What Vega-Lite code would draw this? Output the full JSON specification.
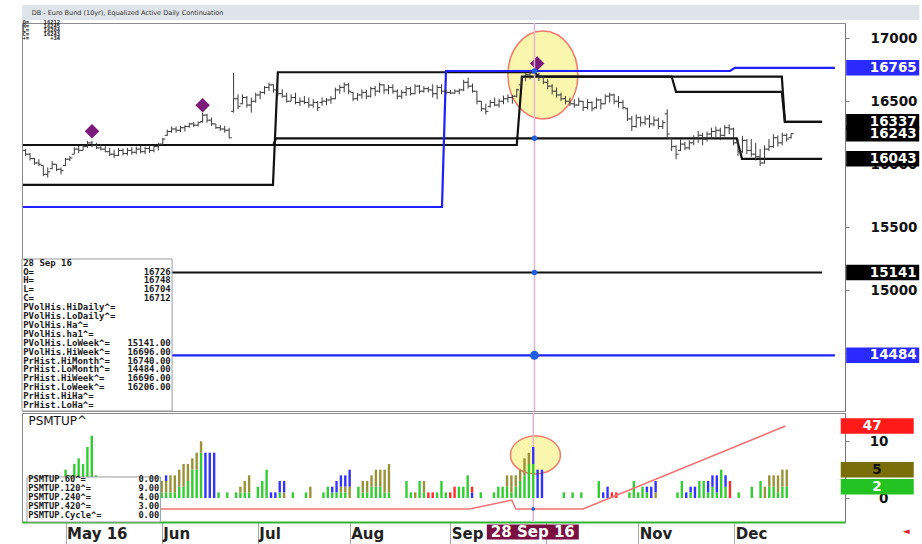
{
"$schema":"https://vega.github.io/schema/vega-lite/v6.json",
"background":"white",
"padding":{"left":18,"top":4,"right":0,"bottom":0},
"spacing":-5,
"resolve":{"scale":{"color":"independent","fill":"independent"}},
"config":{"view":{"stroke":"#8c8c8c","strokeWidth":1},"axis":{"grid":false}},
"datasets":{
"ohlc":[
{"i":1,"o":16110,"h":16120,"l":16065,"c":16080},{"i":2,"o":16080,"h":16090,"l":16030,"c":16045},{"i":3,"o":16045,"h":16050,"l":15995,"c":16010},{"i":4,"o":16010,"h":16040,"l":15985,"c":16000},{"i":5,"o":15990,"h":15990,"l":15905,"c":15920},{"i":6,"o":15920,"h":15975,"l":15895,"c":15940},{"i":7,"o":15965,"h":16025,"l":15960,"c":16000},{"i":8,"o":16000,"h":16000,"l":15945,"c":15960},{"i":9,"o":15960,"h":15975,"l":15920,"c":15950},{"i":10,"o":15990,"h":16050,"l":15985,"c":16040},
{"i":11,"o":16040,"h":16065,"l":16025,"c":16050},{"i":12,"o":16080,"h":16135,"l":16080,"c":16120},{"i":13,"o":16120,"h":16145,"l":16090,"c":16110},{"i":14,"o":16110,"h":16155,"l":16110,"c":16140},{"i":15,"o":16140,"h":16185,"l":16130,"c":16170},{"i":16,"o":16170,"h":16185,"l":16135,"c":16150},{"i":17,"o":16150,"h":16170,"l":16120,"c":16130},{"i":18,"o":16130,"h":16160,"l":16110,"c":16120},{"i":19,"o":16120,"h":16145,"l":16095,"c":16100},{"i":20,"o":16100,"h":16130,"l":16065,"c":16080},
{"i":21,"o":16080,"h":16115,"l":16050,"c":16070},{"i":22,"o":16070,"h":16130,"l":16065,"c":16110},{"i":23,"o":16110,"h":16125,"l":16070,"c":16085},{"i":24,"o":16085,"h":16130,"l":16070,"c":16110},{"i":25,"o":16110,"h":16135,"l":16075,"c":16095},{"i":26,"o":16095,"h":16140,"l":16080,"c":16120},{"i":27,"o":16120,"h":16145,"l":16085,"c":16100},{"i":28,"o":16100,"h":16140,"l":16080,"c":16125},{"i":29,"o":16125,"h":16145,"l":16090,"c":16110},{"i":30,"o":16110,"h":16150,"l":16095,"c":16140},
{"i":31,"o":16140,"h":16170,"l":16110,"c":16160},{"i":32,"o":16160,"h":16210,"l":16155,"c":16200},{"i":33,"o":16230,"h":16275,"l":16225,"c":16260},{"i":34,"o":16260,"h":16300,"l":16250,"c":16280},{"i":35,"o":16280,"h":16300,"l":16250,"c":16270},{"i":36,"o":16270,"h":16305,"l":16255,"c":16290},{"i":37,"o":16290,"h":16310,"l":16260,"c":16300},{"i":38,"o":16300,"h":16330,"l":16290,"c":16320},{"i":39,"o":16320,"h":16335,"l":16295,"c":16310},{"i":40,"o":16310,"h":16340,"l":16300,"c":16330},
{"i":41,"o":16340,"h":16410,"l":16330,"c":16390},{"i":42,"o":16390,"h":16400,"l":16330,"c":16350},{"i":43,"o":16350,"h":16370,"l":16305,"c":16320},{"i":44,"o":16320,"h":16320,"l":16280,"c":16290},{"i":45,"o":16290,"h":16310,"l":16265,"c":16280},{"i":46,"o":16280,"h":16305,"l":16250,"c":16270},{"i":47,"o":16270,"h":16290,"l":16205,"c":16210},{"i":48,"o":16420,"h":16725,"l":16410,"c":16520},{"i":49,"o":16520,"h":16555,"l":16436,"c":16460},{"i":50,"o":16480,"h":16555,"l":16476,"c":16530},
{"i":51,"o":16530,"h":16542,"l":16449,"c":16470},{"i":52,"o":16470,"h":16529,"l":16410,"c":16500},{"i":53,"o":16500,"h":16568,"l":16489,"c":16550},{"i":54,"o":16550,"h":16582,"l":16516,"c":16570},{"i":55,"o":16570,"h":16621,"l":16555,"c":16610},{"i":56,"o":16610,"h":16648,"l":16582,"c":16630},{"i":57,"o":16630,"h":16635,"l":16568,"c":16590},{"i":58,"o":16590,"h":16608,"l":16542,"c":16560},{"i":59,"o":16560,"h":16595,"l":16529,"c":16540},{"i":60,"o":16540,"h":16568,"l":16489,"c":16500},
{"i":61,"o":16500,"h":16555,"l":16502,"c":16530},{"i":62,"o":16530,"h":16568,"l":16476,"c":16490},{"i":63,"o":16490,"h":16529,"l":16463,"c":16500},{"i":64,"o":16500,"h":16542,"l":16476,"c":16490},{"i":65,"o":16490,"h":16529,"l":16449,"c":16470},{"i":66,"o":16470,"h":16516,"l":16449,"c":16490},{"i":67,"o":16490,"h":16502,"l":16423,"c":16450},{"i":68,"o":16490,"h":16530,"l":16465,"c":16500},{"i":69,"o":16500,"h":16525,"l":16470,"c":16510},{"i":70,"o":16510,"h":16540,"l":16480,"c":16520},
{"i":71,"o":16520,"h":16608,"l":16516,"c":16590},{"i":72,"o":16590,"h":16630,"l":16560,"c":16610},{"i":73,"o":16610,"h":16648,"l":16570,"c":16630},{"i":74,"o":16630,"h":16645,"l":16555,"c":16580},{"i":75,"o":16570,"h":16575,"l":16502,"c":16520},{"i":76,"o":16520,"h":16565,"l":16505,"c":16550},{"i":77,"o":16550,"h":16595,"l":16520,"c":16570},{"i":78,"o":16570,"h":16590,"l":16516,"c":16540},{"i":79,"o":16540,"h":16615,"l":16530,"c":16600},{"i":80,"o":16600,"h":16621,"l":16540,"c":16580},
{"i":81,"o":16580,"h":16648,"l":16568,"c":16630},{"i":82,"o":16630,"h":16635,"l":16560,"c":16590},{"i":83,"o":16590,"h":16630,"l":16555,"c":16610},{"i":84,"o":16610,"h":16635,"l":16560,"c":16580},{"i":85,"o":16580,"h":16595,"l":16516,"c":16540},{"i":86,"o":16540,"h":16590,"l":16520,"c":16570},{"i":87,"o":16570,"h":16620,"l":16542,"c":16600},{"i":88,"o":16600,"h":16615,"l":16545,"c":16560},{"i":89,"o":16560,"h":16635,"l":16555,"c":16620},{"i":90,"o":16620,"h":16630,"l":16560,"c":16580},
{"i":91,"o":16580,"h":16620,"l":16568,"c":16600},{"i":92,"o":16600,"h":16615,"l":16570,"c":16590},{"i":93,"o":16590,"h":16635,"l":16530,"c":16560},{"i":94,"o":16560,"h":16630,"l":16516,"c":16610},{"i":95,"o":16610,"h":16635,"l":16555,"c":16580},{"i":96,"o":16580,"h":16595,"l":16555,"c":16570},{"i":97,"o":16570,"h":16590,"l":16555,"c":16565},{"i":98,"o":16565,"h":16595,"l":16558,"c":16580},{"i":99,"o":16580,"h":16600,"l":16555,"c":16590},{"i":100,"o":16590,"h":16670,"l":16580,"c":16650},
{"i":101,"o":16650,"h":16688,"l":16600,"c":16620},{"i":102,"o":16620,"h":16640,"l":16568,"c":16580},{"i":103,"o":16580,"h":16582,"l":16476,"c":16500},{"i":104,"o":16500,"h":16502,"l":16420,"c":16440},{"i":105,"o":16440,"h":16480,"l":16396,"c":16420},{"i":106,"o":16460,"h":16510,"l":16449,"c":16490},{"i":107,"o":16490,"h":16529,"l":16460,"c":16470},{"i":108,"o":16470,"h":16520,"l":16450,"c":16500},{"i":109,"o":16500,"h":16545,"l":16476,"c":16520},{"i":110,"o":16520,"h":16555,"l":16490,"c":16530},
{"i":111,"o":16530,"h":16550,"l":16480,"c":16540},{"i":112,"o":16540,"h":16600,"l":16530,"c":16590},{"i":113,"o":16630,"h":16701,"l":16621,"c":16690},{"i":114,"o":16690,"h":16727,"l":16661,"c":16710},{"i":115,"o":16710,"h":16740,"l":16674,"c":16725},{"i":116,"o":16726,"h":16748,"l":16704,"c":16712},{"i":117,"o":16712,"h":16727,"l":16661,"c":16690},{"i":118,"o":16690,"h":16701,"l":16635,"c":16650},{"i":119,"o":16650,"h":16674,"l":16595,"c":16620},{"i":120,"o":16620,"h":16635,"l":16555,"c":16580},
{"i":121,"o":16580,"h":16608,"l":16529,"c":16550},{"i":122,"o":16550,"h":16568,"l":16502,"c":16520},{"i":123,"o":16520,"h":16542,"l":16476,"c":16500},{"i":124,"o":16500,"h":16529,"l":16463,"c":16480},{"i":125,"o":16480,"h":16516,"l":16449,"c":16470},{"i":126,"o":16470,"h":16529,"l":16463,"c":16500},{"i":127,"o":16500,"h":16502,"l":16423,"c":16450},{"i":128,"o":16450,"h":16516,"l":16436,"c":16490},{"i":129,"o":16490,"h":16500,"l":16420,"c":16440},{"i":130,"o":16450,"h":16529,"l":16440,"c":16510},
{"i":131,"o":16510,"h":16520,"l":16436,"c":16480},{"i":132,"o":16480,"h":16555,"l":16476,"c":16540},{"i":133,"o":16540,"h":16568,"l":16490,"c":16550},{"i":134,"o":16550,"h":16560,"l":16476,"c":16500},{"i":135,"o":16500,"h":16542,"l":16450,"c":16490},{"i":136,"o":16490,"h":16510,"l":16436,"c":16450},{"i":137,"o":16440,"h":16449,"l":16343,"c":16360},{"i":138,"o":16360,"h":16383,"l":16264,"c":16300},{"i":139,"o":16300,"h":16396,"l":16290,"c":16370},{"i":140,"o":16370,"h":16380,"l":16300,"c":16330},
{"i":141,"o":16330,"h":16385,"l":16310,"c":16360},{"i":142,"o":16360,"h":16390,"l":16290,"c":16320},{"i":143,"o":16320,"h":16380,"l":16300,"c":16350},{"i":144,"o":16350,"h":16370,"l":16277,"c":16300},{"i":145,"o":16300,"h":16350,"l":16280,"c":16330},{"i":146,"o":16400,"h":16436,"l":16198,"c":16240},{"i":147,"o":16205,"h":16211,"l":16105,"c":16140},{"i":148,"o":16140,"h":16150,"l":16039,"c":16080},{"i":149,"o":16110,"h":16198,"l":16105,"c":16160},{"i":150,"o":16160,"h":16180,"l":16110,"c":16130},
{"i":151,"o":16130,"h":16190,"l":16115,"c":16170},{"i":152,"o":16170,"h":16230,"l":16150,"c":16210},{"i":153,"o":16210,"h":16264,"l":16170,"c":16230},{"i":154,"o":16230,"h":16250,"l":16150,"c":16200},{"i":155,"o":16200,"h":16260,"l":16180,"c":16240},{"i":156,"o":16240,"h":16290,"l":16200,"c":16260},{"i":157,"o":16260,"h":16300,"l":16210,"c":16270},{"i":158,"o":16270,"h":16290,"l":16190,"c":16230},{"i":159,"o":16230,"h":16310,"l":16220,"c":16290},{"i":160,"o":16290,"h":16317,"l":16240,"c":16280},
{"i":161,"o":16280,"h":16290,"l":16150,"c":16170},{"i":162,"o":16170,"h":16200,"l":16066,"c":16100},{"i":163,"o":16100,"h":16225,"l":16090,"c":16190},{"i":164,"o":16190,"h":16200,"l":16079,"c":16110},{"i":165,"o":16110,"h":16200,"l":16060,"c":16080},{"i":166,"o":16080,"h":16170,"l":16030,"c":16060},{"i":167,"o":16060,"h":16120,"l":15986,"c":16010},{"i":168,"o":16010,"h":16150,"l":16005,"c":16120},{"i":169,"o":16120,"h":16200,"l":16105,"c":16140},{"i":170,"o":16140,"h":16238,"l":16130,"c":16210},
{"i":171,"o":16210,"h":16230,"l":16140,"c":16170},{"i":172,"o":16170,"h":16251,"l":16150,"c":16230},{"i":173,"o":16230,"h":16245,"l":16180,"c":16200},{"i":174,"o":16212,"h":16245,"l":16204,"c":16243}
],
"lines":[
{"s":"L1","i":0.4,"p":15836},{"s":"L1","i":56.9,"p":15836},{"s":"L1","i":58,"p":16730},{"s":"L1","i":116,"p":16730},{"s":"L1","i":117,"p":16696},{"s":"L1","i":171.9,"p":16696},{"s":"L1","i":172.6,"p":16337},{"s":"L1","i":181,"p":16337},
{"s":"L2","i":0.4,"p":16153},{"s":"L2","i":112,"p":16153},{"s":"L2","i":113.2,"p":16696},{"s":"L2","i":147,"p":16696},{"s":"L2","i":148,"p":16574},{"s":"L2","i":171.9,"p":16574},{"s":"L2","i":172.6,"p":16337},{"s":"L2","i":181,"p":16337},
{"s":"L3","i":0.4,"p":16153},{"s":"L3","i":57,"p":16153},{"s":"L3","i":57.6,"p":16206},{"s":"L3","i":161.7,"p":16206},{"s":"L3","i":162.9,"p":16043},{"s":"L3","i":181,"p":16043},
{"s":"W","i":0.4,"p":15141},{"s":"W","i":181,"p":15141},
{"s":"B1","i":0.4,"p":15661},{"s":"B1","i":95.1,"p":15661},{"s":"B1","i":96,"p":16740},{"s":"B1","i":160.2,"p":16740},{"s":"B1","i":161.3,"p":16765},{"s":"B1","i":183.9,"p":16765},
{"s":"B2","i":0.4,"p":14484},{"s":"B2","i":183.9,"p":14484}
],
"diam":[{"i":16,"p":16262},{"i":41,"p":16468},{"i":116.6,"p":16800}],
"dots":[{"p":16740},{"p":16206},{"p":15141}],
"vbox":[{"p":16765,"label":"16765","k":"blue"},{"p":16243,"label":"16243","k":"black"},{"p":16337,"label":"16337","k":"black"},{"p":16043,"label":"16043","k":"black"},{"p":15141,"label":"15141","k":"black"},{"p":14484,"label":"14484","k":"blue"}],
"box":[
{"line":1,"label":"28 Sep 16","value":""},{"line":2,"label":"O=","value":"16726"},{"line":3,"label":"H=","value":"16748"},{"line":4,"label":"L=","value":"16704"},{"line":5,"label":"C=","value":"16712"},
{"line":6,"label":"PVolHis.HiDaily^=","value":""},{"line":7,"label":"PVolHis.LoDaily^=","value":""},{"line":8,"label":"PVolHis.Ha^=","value":""},{"line":9,"label":"PVolHis.ha1^=","value":""},
{"line":10,"label":"PVolHis.LoWeek^=","value":"15141.00"},{"line":11,"label":"PVolHis.HiWeek^=","value":"16696.00"},{"line":12,"label":"PrHist.HiMonth^=","value":"16740.00"},{"line":13,"label":"PrHist.LoMonth^=","value":"14484.00"},{"line":14,"label":"PrHist.HiWeek^=","value":"16696.00"},{"line":15,"label":"PrHist.LoWeek^=","value":"16206.00"},{"line":16,"label":"PrHist.HiHa^=","value":""},{"line":17,"label":"PrHist.LoHa^=","value":""}
],
"hdr":[{"line":1,"label":"O=","value":"16212"},{"line":2,"label":"H=","value":"16245"},{"line":3,"label":"L=","value":"16204"},{"line":4,"label":"C=","value":"16243"},{"line":5,"label":"+=","value":"+34"}],
"psm":[
{"i":2,"c":"1g","v":1},{"i":4,"c":"1g","v":2},{"i":5,"c":"1g","v":1},{"i":6,"c":"1g","v":2},{"i":7,"c":"1g","v":1},{"i":8,"c":"1g","v":3},{"i":9,"c":"1g","v":5},{"i":10,"c":"1g","v":4},{"i":11,"c":"1g","v":6},{"i":12,"c":"1g","v":7},{"i":13,"c":"1g","v":6},{"i":14,"c":"1g","v":9},{"i":15,"c":"1g","v":11},{"i":16,"c":"1g","v":4},{"i":17,"c":"1g","v":2},{"i":19,"c":"1g","v":1},{"i":20,"c":"1g","v":2},{"i":22,"c":"1g","v":1},{"i":24,"c":"1g","v":2},{"i":25,"c":"1g","v":1},{"i":26,"c":"1g","v":2},{"i":28,"c":"1g","v":1},{"i":29,"c":"1g","v":3},{"i":30,"c":"1g","v":2},
{"i":31,"c":"1g","v":1},{"i":31,"c":"2o","v":2},{"i":32,"c":"1g","v":1},{"i":32,"c":"2o","v":2},{"i":32,"c":"3b","v":1},{"i":33,"c":"1g","v":1},{"i":33,"c":"2o","v":3},{"i":34,"c":"1g","v":1},{"i":34,"c":"2o","v":3},{"i":35,"c":"1g","v":2},{"i":35,"c":"2o","v":3},{"i":36,"c":"1g","v":2},{"i":36,"c":"2o","v":4},{"i":37,"c":"1g","v":3},{"i":37,"c":"2o","v":3},{"i":38,"c":"1g","v":5},{"i":38,"c":"2o","v":2},{"i":39,"c":"1g","v":5},{"i":39,"c":"2o","v":3},{"i":40,"c":"1g","v":8},{"i":40,"c":"2o","v":2},
{"i":41,"c":"3b","v":8},{"i":42,"c":"3b","v":8},{"i":43,"c":"3b","v":8},{"i":44,"c":"1g","v":1},{"i":46,"c":"1g","v":1},{"i":48,"c":"1g","v":1},{"i":49,"c":"1g","v":1},{"i":49,"c":"2o","v":1},{"i":50,"c":"1g","v":1},{"i":50,"c":"2o","v":2},{"i":51,"c":"1g","v":1},{"i":51,"c":"2o","v":3},{"i":53,"c":"1g","v":2},{"i":54,"c":"1g","v":3},{"i":55,"c":"1g","v":5},{"i":56,"c":"3b","v":1},{"i":57,"c":"3b","v":1},{"i":58,"c":"1g","v":1},{"i":58,"c":"3b","v":2},{"i":59,"c":"2o","v":1},{"i":59,"c":"3b","v":2},
{"i":61,"c":"1g","v":1},{"i":64,"c":"1g","v":1},{"i":65,"c":"2o","v":2},{"i":68,"c":"1g","v":1},{"i":69,"c":"1g","v":2},{"i":70,"c":"1g","v":1},{"i":70,"c":"3b","v":1},{"i":71,"c":"1g","v":1},{"i":71,"c":"3b","v":2},{"i":72,"c":"1g","v":1},{"i":72,"c":"2o","v":1},{"i":72,"c":"3b","v":2},{"i":73,"c":"1g","v":1},{"i":73,"c":"2o","v":1},{"i":73,"c":"3b","v":2},{"i":74,"c":"2o","v":2},{"i":74,"c":"3b","v":3},
{"i":76,"c":"1g","v":2},{"i":77,"c":"1g","v":1},{"i":77,"c":"2o","v":2},{"i":78,"c":"1g","v":1},{"i":78,"c":"2o","v":2},{"i":79,"c":"1g","v":2},{"i":79,"c":"2o","v":2},{"i":80,"c":"1g","v":2},{"i":80,"c":"2o","v":3},{"i":81,"c":"1g","v":2},{"i":81,"c":"2o","v":3},{"i":82,"c":"1g","v":1},{"i":82,"c":"2o","v":4},{"i":83,"c":"1g","v":1},{"i":83,"c":"2o","v":5},
{"i":87,"c":"1g","v":3},{"i":88,"c":"1g","v":1},{"i":89,"c":"2o","v":1},{"i":90,"c":"1g","v":3},{"i":91,"c":"1g","v":1},{"i":91,"c":"2o","v":2},{"i":92,"c":"4r","v":1},{"i":93,"c":"4r","v":1},{"i":94,"c":"1g","v":1},{"i":95,"c":"1g","v":3},{"i":96,"c":"1g","v":1},{"i":97,"c":"4r","v":1},{"i":98,"c":"4r","v":2},{"i":99,"c":"1g","v":2},{"i":100,"c":"1g","v":2},{"i":101,"c":"1g","v":4},{"i":102,"c":"3b","v":1},{"i":102,"c":"4r","v":1},
{"i":104,"c":"1g","v":1},{"i":107,"c":"1g","v":1},{"i":108,"c":"1g","v":2},{"i":109,"c":"1g","v":2},{"i":110,"c":"1g","v":2},{"i":110,"c":"2o","v":2},{"i":111,"c":"1g","v":1},{"i":111,"c":"2o","v":3},{"i":112,"c":"1g","v":2},{"i":112,"c":"2o","v":2},{"i":113,"c":"1g","v":3},{"i":113,"c":"2o","v":2},{"i":114,"c":"1g","v":4},{"i":114,"c":"2o","v":3},{"i":115,"c":"1g","v":6},{"i":115,"c":"2o","v":2},{"i":116,"c":"1g","v":6},{"i":116,"c":"3b","v":3},{"i":117,"c":"3b","v":5},{"i":118,"c":"3b","v":5},
{"i":123,"c":"1g","v":1},{"i":125,"c":"1g","v":1},{"i":127,"c":"1g","v":1},{"i":131,"c":"1g","v":3},{"i":132,"c":"3b","v":1},{"i":133,"c":"3b","v":2},{"i":134,"c":"4r","v":1},{"i":135,"c":"4r","v":1},{"i":138,"c":"1g","v":1},{"i":139,"c":"1g","v":3},{"i":140,"c":"1g","v":1},{"i":141,"c":"1g","v":2},{"i":142,"c":"1g","v":1},{"i":142,"c":"3b","v":1},{"i":143,"c":"3b","v":2},{"i":144,"c":"2o","v":1},{"i":144,"c":"3b","v":2},
{"i":149,"c":"1g","v":1},{"i":150,"c":"1g","v":3},{"i":151,"c":"3b","v":1},{"i":152,"c":"1g","v":1},{"i":152,"c":"3b","v":1},{"i":153,"c":"3b","v":2},{"i":154,"c":"1g","v":3},{"i":155,"c":"1g","v":3},{"i":156,"c":"1g","v":1},{"i":156,"c":"3b","v":2},{"i":157,"c":"1g","v":2},{"i":157,"c":"3b","v":2},{"i":158,"c":"1g","v":1},{"i":158,"c":"3b","v":3},{"i":159,"c":"1g","v":5},{"i":160,"c":"1g","v":2},{"i":160,"c":"3b","v":2},{"i":161,"c":"4r","v":3},
{"i":163,"c":"1g","v":1},{"i":166,"c":"1g","v":2},{"i":168,"c":"1g","v":3},{"i":169,"c":"2o","v":2},{"i":170,"c":"1g","v":2},{"i":170,"c":"2o","v":2},{"i":171,"c":"1g","v":2},{"i":171,"c":"2o","v":2},{"i":172,"c":"1g","v":1},{"i":172,"c":"2o","v":3},{"i":173,"c":"1g","v":2},{"i":173,"c":"2o","v":3},{"i":174,"c":"1g","v":2},{"i":174,"c":"2o","v":3}
],
"cycle":[{"i":0.4,"r":0},{"i":101.4,"r":0},{"i":111.1,"r":5},{"i":112,"r":0},{"i":127.4,"r":0},{"i":173.7,"r":47}],
"leg":[{"line":1,"label":"PSMTUP.60^=","value":"0.00"},{"line":2,"label":"PSMTUP.120^=","value":"9.00"},{"line":3,"label":"PSMTUP.240^=","value":"4.00"},{"line":4,"label":"PSMTUP.420^=","value":"3.00"},{"line":5,"label":"PSMTUP.Cycle^=","value":"0.00"}]
},
"vconcat":[
{
"width":823,"height":388,
"layer":[
{"layer":[
{"data":{"values":[{}]},
 "mark":{"type":"point","shape":"M-0.795,0A0.795,1,0,1,1,0.795,0A0.795,1,0,1,1,-0.795,0Z","size":7744,"filled":true,"fill":"#fbf6ae","stroke":"#f07a6a","strokeWidth":1.5,"opacity":1},
 "encoding":{
  "x":{"datum":117.9,"type":"quantitative","scale":{"domain":[0.18,186.18],"nice":false,"zero":false},"axis":null},
  "y":{"datum":16709,"type":"quantitative","scale":{"domain":[14042,17121],"nice":false,"zero":false},
       "axis":{"orient":"right","values":[14500,15000,15500,16000,16500,17000],"format":"d","labelAlign":"right","labelBaseline":"middle","labelPadding":68,"tickSize":4,"tickColor":"#777","domainColor":"#777","labelFont":"DejaVu Sans","labelFontWeight":"bold","labelFontSize":13.5,"labelColor":"#111","title":null,"grid":false,"labelFlush":false,"labelOverlap":false}}}},
{"data":{"name":"lines"},"mark":{"type":"line","strokeWidth":2.2},
 "encoding":{"x":{"field":"i","type":"quantitative","title":null},"y":{"field":"p","type":"quantitative","title":null},
  "color":{"field":"s","type":"nominal","scale":{"domain":["L1","L2","L3","W","B1","B2"],"range":["#111111","#111111","#111111","#111111","#1f1fff","#1f1fff"]},"legend":null}}},
{"data":{"name":"ohlc"},"mark":{"type":"rule","color":"#3a3a3a","strokeWidth":1},
 "encoding":{"x":{"field":"i","type":"quantitative","title":null},"y":{"field":"l","type":"quantitative","title":null},"y2":{"field":"h"}}},
{"data":{"name":"ohlc"},"mark":{"type":"tick","orient":"horizontal","size":2.5,"thickness":1,"xOffset":-1.3,"color":"#3a3a3a","opacity":1},
 "encoding":{"x":{"field":"i","type":"quantitative","title":null},"y":{"field":"o","type":"quantitative","title":null}}},
{"data":{"name":"ohlc"},"mark":{"type":"tick","orient":"horizontal","size":2.5,"thickness":1,"xOffset":1.3,"color":"#3a3a3a","opacity":1},
 "encoding":{"x":{"field":"i","type":"quantitative","title":null},"y":{"field":"c","type":"quantitative","title":null}}},
{"data":{"name":"diam"},"mark":{"type":"point","shape":"diamond","filled":true,"size":210,"color":"#7b1c7b","opacity":1},
 "encoding":{"x":{"field":"i","type":"quantitative","title":null},"y":{"field":"p","type":"quantitative","title":null}}},
{"data":{"values":[{}]},"mark":{"type":"rule","color":"#e3b3cf","strokeWidth":1.5},"encoding":{"x":{"datum":116}}},
{"data":{"name":"dots"},"mark":{"type":"point","shape":"circle","filled":true,"size":30,"color":"#1f5fe0","opacity":1},
 "encoding":{"x":{"datum":116},"y":{"field":"p","type":"quantitative","title":null}}},
{"data":{"values":[{}]},"mark":{"type":"point","shape":"circle","filled":true,"size":80,"color":"#1f5fe0","opacity":1},
 "encoding":{"x":{"datum":116},"y":{"datum":14484}}},
{"data":{"name":"vbox"},"mark":{"type":"point","shape":"M-1,-0.212H1V0.212H-1Z","size":5329,"filled":true,"opacity":1,"strokeWidth":0},
 "encoding":{"x":{"datum":194.7},"y":{"field":"p","type":"quantitative","title":null},
  "fill":{"field":"k","type":"nominal","scale":{"domain":["blue","black"],"range":["#2a2aff","#000000"]},"legend":null}}},
{"data":{"name":"vbox"},"mark":{"type":"text","align":"right","baseline":"middle","font":"DejaVu Sans","fontWeight":"bold","fontSize":13.5,"color":"white"},
 "encoding":{"x":{"datum":202.4},"y":{"field":"p","type":"quantitative","title":null},"text":{"field":"label"}}}
]},
{"layer":[
{"data":{"values":[{}]},"mark":{"type":"rect","fill":"white","stroke":"#9a9a9a","strokeWidth":1},
 "encoding":{"x":{"datum":0.18},"x2":{"datum":34.1},"y":{"datum":0.587,"type":"quantitative","scale":{"domain":[-25.93,17.67],"reverse":true,"nice":false,"zero":false},"axis":null},"y2":{"datum":17.67}}},
{"data":{"name":"box"},"mark":{"type":"text","align":"left","baseline":"middle","font":"DejaVu Sans Mono","fontSize":9,"fontWeight":"bold","color":"#1a1a1a"},
 "encoding":{"x":{"datum":0.45},"y":{"field":"line","type":"quantitative"},"text":{"field":"label"}}},
{"data":{"name":"box"},"mark":{"type":"text","align":"right","baseline":"middle","font":"DejaVu Sans Mono","fontSize":9,"fontWeight":"bold","color":"#1a1a1a"},
 "encoding":{"x":{"datum":33.8},"y":{"field":"line","type":"quantitative"},"text":{"field":"value"}}}
]},
{"layer":[
{"data":{"values":[{}]},"mark":{"type":"rect","fill":"#dfe4ea"},
 "encoding":{"x":{"datum":0.18},"x2":{"datum":203},"y":{"datum":-3.175,"type":"quantitative","scale":{"domain":[1.325,98.325],"reverse":true,"nice":false,"zero":false},"axis":null},"y2":{"datum":0.575}}},
{"data":{"values":[{}]},"mark":{"type":"text","align":"left","baseline":"middle","font":"DejaVu Sans","fontSize":6.5,"color":"#333","text":"DB - Euro Bund (10yr), Equalized Active Daily Continuation"},
 "encoding":{"x":{"datum":2.4},"y":{"datum":-1.2}}},
{"data":{"name":"hdr"},"mark":{"type":"text","align":"left","baseline":"middle","font":"DejaVu Sans Mono","fontSize":5.5,"fontWeight":"bold","color":"#222"},
 "encoding":{"x":{"datum":0.3},"y":{"field":"line","type":"quantitative"},"text":{"field":"label"}}},
{"data":{"name":"hdr"},"mark":{"type":"text","align":"right","baseline":"middle","font":"DejaVu Sans Mono","fontSize":5.5,"fontWeight":"bold","color":"#222"},
 "encoding":{"x":{"datum":8.8},"y":{"field":"line","type":"quantitative"},"text":{"field":"value"}}}
]}
],
"resolve":{"scale":{"y":"independent"}}
},
{
"width":823,"height":109,
"layer":[
{"layer":[
{"data":{"values":[{}]},
 "mark":{"type":"point","shape":"M-1,0A1,0.76,0,1,1,1,0A1,0.76,0,1,1,-1,0Z","size":2500,"filled":true,"fill":"#fbf6ae","stroke":"#f07a6a","strokeWidth":1.5,"opacity":1},
 "encoding":{
  "x":{"datum":116.5,"type":"quantitative","scale":{"domain":[0.18,186.18],"nice":false,"zero":false},
       "axis":{"orient":"bottom","values":[9,31,53,74,97,119,140,162],"labelExpr":"datum.value==9?'May 16':datum.value==31?'Jun':datum.value==53?'Jul':datum.value==74?'Aug':datum.value==97?'Sep':datum.value==119?'Oct':datum.value==140?'Nov':'Dec'","tickSize":22,"tickColor":"#a8a8a8","tickWidth":1,"labelPadding":-18,"labelAlign":"left","labelBaseline":"top","labelOffset":1,"labelFont":"DejaVu Sans","labelFontWeight":"bold","labelFontSize":15,"labelColor":"#222","domainColor":"#2fb52f","domainWidth":2,"title":null,"grid":false,"labelFlush":false,"labelOverlap":false}},
  "y":{"datum":7.6,"type":"quantitative","scale":{"domain":[-4.23,15],"nice":false,"zero":false},
       "axis":{"orient":"right","values":[0,10],"format":"d","labelAlign":"right","labelBaseline":"middle","labelPadding":39,"tickSize":4,"tickColor":"#777","domainColor":"#777","labelFont":"DejaVu Sans","labelFontWeight":"bold","labelFontSize":13.5,"labelColor":"#111","title":null,"grid":false,"labelFlush":false}}}},
{"data":{"values":[{}]},"mark":{"type":"rule","color":"#e3b3cf","strokeWidth":1.5},"encoding":{"x":{"datum":116}}},
{"data":{"name":"psm"},"mark":{"type":"bar","size":2.4},
 "encoding":{"x":{"field":"i","type":"quantitative","title":null},"y":{"field":"v","type":"quantitative","stack":"zero","title":null},
  "color":{"field":"c","type":"nominal","scale":{"domain":["1g","2o","3b","4r"],"range":["#33cc33","#9a9238","#3333ff","#ff2b2b"]},"legend":null},
  "order":{"field":"c","type":"ordinal"}}},
{"data":{"values":[{}]},"mark":{"type":"point","shape":"M-1,-0.212H1V0.212H-1Z","size":5329,"filled":true,"opacity":1,"color":"#7a6e08"},"encoding":{"x":{"datum":194.7},"y":{"datum":5}}},
{"data":{"values":[{}]},"mark":{"type":"text","align":"right","baseline":"middle","font":"DejaVu Sans","fontWeight":"bold","fontSize":13.5,"color":"#111","text":"5"},"encoding":{"x":{"datum":195.7},"y":{"datum":5}}},
{"data":{"values":[{}]},"mark":{"type":"point","shape":"M-1,-0.212H1V0.212H-1Z","size":5329,"filled":true,"opacity":1,"color":"#22c322"},"encoding":{"x":{"datum":194.7},"y":{"datum":2}}},
{"data":{"values":[{}]},"mark":{"type":"text","align":"right","baseline":"middle","font":"DejaVu Sans","fontWeight":"bold","fontSize":13.5,"color":"white","text":"2"},"encoding":{"x":{"datum":195.7},"y":{"datum":2}}},
{"data":{"values":[{}]},"mark":{"type":"point","shape":"M-1,-0.163H1V0.163H-1Z","size":8464,"filled":true,"opacity":1,"color":"#7b0f42"},"encoding":{"x":{"datum":115.9},"y":{"datum":-6.0}}},
{"data":{"values":[{}]},"mark":{"type":"text","align":"center","baseline":"middle","font":"DejaVu Sans","fontWeight":"bold","fontSize":15,"color":"white","text":"28 Sep 16"},"encoding":{"x":{"datum":115.9},"y":{"datum":-6.0}}},
{"data":{"values":[{}]},"mark":{"type":"text","align":"center","baseline":"middle","font":"DejaVu Sans","fontSize":9,"color":"#e02020","text":"◄"},"encoding":{"x":{"datum":201.3},"y":{"datum":-5.9}}}
]},
{"layer":[
{"data":{"name":"cycle"},"mark":{"type":"line","color":"#f27272","strokeWidth":1.5},
 "encoding":{"x":{"field":"i","type":"quantitative","title":null},"y":{"field":"r","type":"quantitative","scale":{"domain":[-7.4,54.4],"nice":false,"zero":false},"axis":null}}},
{"data":{"values":[{}]},"mark":{"type":"point","shape":"circle","filled":true,"size":14,"color":"#1f5fe0","opacity":1},"encoding":{"x":{"datum":116},"y":{"datum":0}}},
{"data":{"values":[{}]},"mark":{"type":"point","shape":"M-1,-0.212H1V0.212H-1Z","size":5329,"filled":true,"opacity":1,"color":"#ff1a1a"},"encoding":{"x":{"datum":194.7},"y":{"datum":47}}},
{"data":{"values":[{}]},"mark":{"type":"text","align":"right","baseline":"middle","font":"DejaVu Sans","fontWeight":"bold","fontSize":13.5,"color":"white","text":"47"},"encoding":{"x":{"datum":195.7},"y":{"datum":47}}}
]},
{"layer":[
{"data":{"values":[{}]},"mark":{"type":"rect","fill":"white","stroke":"#9a9a9a","strokeWidth":1},
 "encoding":{"x":{"datum":0.18},"x2":{"datum":30.7},"y":{"datum":0.78,"type":"quantitative","scale":{"domain":[-6.25,5.73],"reverse":true,"nice":false,"zero":false},"axis":null},"y2":{"datum":5.73}}},
{"data":{"name":"leg"},"mark":{"type":"text","align":"left","baseline":"middle","font":"DejaVu Sans Mono","fontSize":8.7,"fontWeight":"bold","color":"#1a1a1a"},
 "encoding":{"x":{"datum":0.45},"y":{"field":"line","type":"quantitative"},"text":{"field":"label"}}},
{"data":{"name":"leg"},"mark":{"type":"text","align":"right","baseline":"middle","font":"DejaVu Sans Mono","fontSize":8.7,"fontWeight":"bold","color":"#1a1a1a"},
 "encoding":{"x":{"datum":30.45},"y":{"field":"line","type":"quantitative"},"text":{"field":"value"}}},
{"data":{"values":[{}]},"mark":{"type":"text","align":"left","baseline":"middle","font":"DejaVu Sans","fontSize":12,"color":"#111","text":"PSMTUP^"},"encoding":{"x":{"datum":0.5},"y":{"datum":-5.37}}}
]}
],
"resolve":{"scale":{"y":"independent"}}
}
]
}
